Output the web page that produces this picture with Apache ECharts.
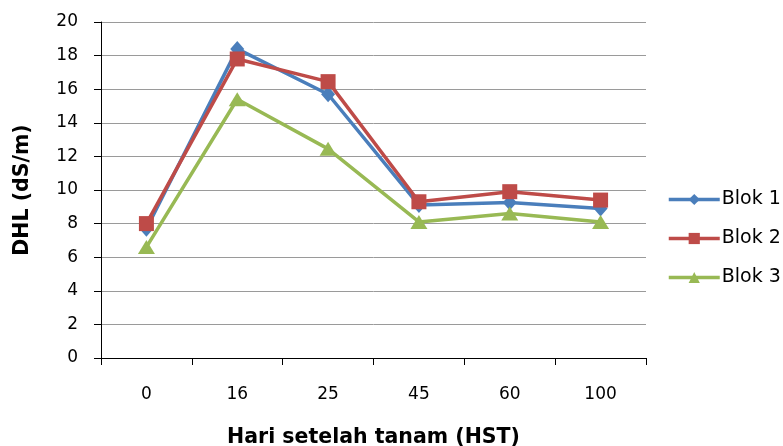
<!DOCTYPE html>
<html>
<head>
<meta charset="utf-8">
<script src="https://cdn.jsdelivr.net/npm/echarts@6/dist/echarts.min.js"></script>
<style>
  html, body { margin: 0; padding: 0; background: #ffffff; }
  #chart { width: 783px; height: 446px; }
</style>
</head>
<body>
<div id="chart"></div>
<script>
// Days after planting (HST)
const categories = ['0', '16', '25', '45', '60', '100'];
// Electrical conductivity, dS/m, per block
const blok1 = [7.7, 18.4, 15.7, 9.1, 9.25, 8.9];
const blok2 = [8.0, 17.8, 16.45, 9.3, 9.9, 9.4];
const blok3 = [6.6, 15.4, 12.45, 8.1, 8.6, 8.1];
const seriesNames = ['Blok 1', 'Blok 2', 'Blok 3'];
const yTicks = { min: 0, max: 20, interval: 2 };

const colors = ['#4A7EBB', '#BE4B48', '#98B954'];
const symbols = ['diamond', 'rect', 'triangle'];
const symbolSizes = [[14, 16], 15, [17, 14]];
const fontFamily = 'Verdana, "DejaVu Sans", sans-serif';

const chart = echarts.init(document.getElementById('chart'), null, { renderer: 'canvas' });

const data = [blok1, blok2, blok3];

chart.setOption({
  animation: false,
  backgroundColor: '#ffffff',
  grid: {
    left: 101, right: 137, top: 22, bottom: 88,
    containLabel: false,
    outerBoundsMode: 'none'
  },
  legend: {
    orient: 'vertical',
    left: 667,
    top: 190,
    padding: 0,
    itemWidth: 51,
    itemHeight: 14,
    itemGap: 20,
    lineStyle: { width: 3.5 },
    textStyle: { fontFamily: fontFamily, fontSize: 19, color: '#000000', padding: [0, 0, 0, -3] },
    data: seriesNames
  },
  xAxis: {
    type: 'category',
    data: categories,
    boundaryGap: true,
    name: 'Hari setelah tanam (HST)',
    nameLocation: 'middle',
    nameGap: 69,
    nameTextStyle: { fontFamily: fontFamily, fontSize: 20.5, fontWeight: 'bold', color: '#000000' },
    axisLine: { lineStyle: { color: '#000000', width: 1 } },
    axisTick: { show: true, alignWithLabel: false, length: 7, lineStyle: { color: '#000000' } },
    axisLabel: { margin: 28, fontFamily: fontFamily, fontSize: 17, color: '#000000' },
    splitLine: { show: false }
  },
  yAxis: {
    type: 'value',
    min: yTicks.min,
    max: yTicks.max,
    interval: yTicks.interval,
    name: 'DHL (dS/m)',
    nameLocation: 'middle',
    nameRotate: 90,
    nameGap: 68,
    nameTextStyle: { fontFamily: fontFamily, fontSize: 20.5, fontWeight: 'bold', color: '#000000' },
    axisLine: { show: true, lineStyle: { color: '#000000', width: 1 } },
    axisTick: { show: true, length: 7, lineStyle: { color: '#000000' } },
    axisLabel: { margin: 23, fontFamily: fontFamily, fontSize: 17, color: '#000000' },
    splitLine: { show: true, lineStyle: { color: '#9a9a9a', width: 1 } }
  },
  series: seriesNames.map((name, i) => ({
    name: name,
    type: 'line',
    data: data[i],
    symbol: symbols[i],
    symbolSize: symbolSizes[i],
    showSymbol: true,
    color: colors[i],
    lineStyle: { width: 3.5, color: colors[i] },
    itemStyle: { color: colors[i], borderWidth: 0 },
    z: 2 + i
  }))
});
</script>
</body>
</html>
